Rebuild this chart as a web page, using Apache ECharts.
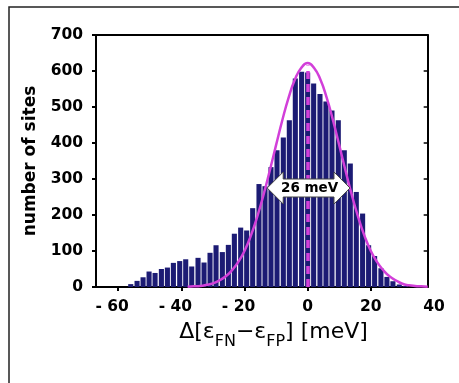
<!DOCTYPE html>
<html><head><meta charset="utf-8">
<script src="https://cdn.jsdelivr.net/npm/echarts@6/dist/echarts.min.js"></script>
<style>html,body{margin:0;padding:0;background:#fff}#c{width:459px;height:383px}</style>
</head><body><div id="c"></div>
<script>
// ---- data ----
const binCenters = [-56.0,-54.0,-52.1,-50.2,-48.3,-46.3,-44.4,-42.5,-40.5,-38.6,-36.7,-34.7,-32.8,-30.9,-29.0,-27.0,-25.1,-23.2,-21.2,-19.3,-17.4,-15.4,-13.5,-11.6,-9.7,-7.7,-5.8,-3.9,-1.9,0.0,1.9,3.9,5.8,7.7,9.7,11.6,13.5,15.4,17.4,19.3,21.2,23.2,25.1,27.0,29.0,30.9];
const binCounts  = [8,17,27,43,39,50,54,67,72,77,57,81,68,95,116,97,117,148,165,157,219,286,280,333,380,415,463,579,598,596,565,536,515,490,463,380,343,264,204,116,86,52,28,16,7,3];
const fitX = [-38,-36,-34,-32,-30,-28,-26,-24,-22,-20,-18,-16,-14,-12,-10,-8,-6,-4,-2,0,2,4,6,8,10,12,14,16,18,20,22,24,26,28,30,32,34,36,38];
const fitY = [1,2,3,6,10,18,29,46,69,100,142,194,255,323,394,464,527,577,609,622,609,577,527,464,394,323,255,194,142,100,69,46,29,18,9,5,3,2,1];
const xTickValues = [-60,-40,-20,0,20,40];
const xTickMarks = [-60,-40,-20,0,20];
const xMin = -67, xMax = 40, xFrameMax = 38;
const yMin = 0, yMax = 700, yStep = 100;
const widthArrow = [[-12.8, 13.4, 275]];
const widthLabel = '26 meV';
const centerLine = [[0, 0], [0, 615]];
const xTitle = '{a|Δ[ε}{s|FN}{a|−ε}{s|FP}{a|] [meV]}';
const yTitle = 'number of sites';

// ---- chart ----
const F = 'DejaVu Sans';
const gridLeft = 96, gridTop = 35, gridW = 338, gridH = 252;
const frameW = gridW * (xFrameMax - xMin) / (xMax - xMin);
const black = '#000';
const magenta = '#d23fd9';

const chart = echarts.init(document.getElementById('c'), null, {renderer: 'canvas'});
const lbl = {fontFamily: F, fontWeight: 'bold', fontSize: 15.5, color: black};

chart.setOption({
  animation: false,
  backgroundColor: '#fff',
  grid: [
    {left: gridLeft, top: gridTop, width: gridW, height: gridH},
    {left: gridLeft, top: gridTop, width: frameW, height: gridH}
  ],
  xAxis: [
    {
      gridIndex: 0, type: 'value', min: xMin, max: xMax,
      axisLine: {show: false, onZero: false},
      splitLine: {show: false},
      axisTick: {show: true, customValues: xTickMarks, length: 4, lineStyle: {color: black, width: 2}},
      axisLabel: {
        customValues: xTickValues, margin: 12,
        formatter: v => v < 0 ? '{n|- ' + (-v) + '}{h|- }' : '{n|' + v + '}',
        rich: {n: lbl, h: Object.assign({}, lbl, {color: 'rgba(0,0,0,0)'})}
      },
      name: xTitle, nameLocation: 'middle', nameGap: 34,
      nameTextStyle: {
        padding: [0, 0, 0, 17],
        rich: {
          a: {fontFamily: F, fontSize: 22, color: black, verticalAlign: 'bottom', padding: [0, 0, 7, 0]},
          s: {fontFamily: F, fontSize: 16, color: black, verticalAlign: 'bottom'}
        }
      }
    },
    {gridIndex: 1, type: 'value', min: 0, max: 1, position: 'bottom',
      axisLine: {show: true, onZero: false, lineStyle: {color: black, width: 2}},
      axisTick: {show: false}, axisLabel: {show: false}, splitLine: {show: false}},
    {gridIndex: 1, type: 'value', min: 0, max: 1, position: 'top',
      axisLine: {show: true, onZero: false, lineStyle: {color: black, width: 2}},
      axisTick: {show: false}, axisLabel: {show: false}, splitLine: {show: false}}
  ],
  yAxis: [
    {
      gridIndex: 0, type: 'value', min: yMin, max: yMax, interval: yStep,
      axisLine: {show: true, onZero: false, lineStyle: {color: black, width: 2}},
      axisTick: {show: true, length: 4, lineStyle: {color: black, width: 2}},
      axisLabel: Object.assign({margin: 13}, lbl),
      splitLine: {show: false},
      name: yTitle, nameLocation: 'middle', nameGap: 57,
      nameTextStyle: {fontFamily: F, fontWeight: 'bold', fontSize: 17, color: black}
    },
    {
      gridIndex: 1, type: 'value', min: yMin, max: yMax, interval: yStep, position: 'right',
      axisLine: {show: true, onZero: false, lineStyle: {color: black, width: 2}},
      axisTick: {show: true, inside: true, length: 4, lineStyle: {color: black, width: 1.5}},
      axisLabel: {show: false}, splitLine: {show: false}
    }
  ],
  graphic: [{
    type: 'rect', silent: true, z: 0,
    shape: {x: 9, y: 7, width: 520, height: 420},
    style: {fill: 'none', stroke: '#222', lineWidth: 1.5}
  }],
  series: [
    {
      type: 'bar', xAxisIndex: 0, yAxisIndex: 0, silent: true, z: 2,
      barWidth: 5.1,
      itemStyle: {color: '#1c1b74'},
      data: binCenters.map((x, i) => [x, binCounts[i]])
    },
    {
      type: 'line', xAxisIndex: 0, yAxisIndex: 0, silent: true, z: 4,
      smooth: true, showSymbol: false,
      lineStyle: {color: magenta, width: 2.5},
      data: fitX.map((x, i) => [x, fitY[i]]),
      markLine: {
        silent: true, symbol: 'none', label: {show: false}, z: 5,
        lineStyle: {color: magenta, type: [8, 5], width: 3.5},
        data: [[{coord: centerLine[0]}, {coord: centerLine[1]}]]
      }
    },
    {
      type: 'custom', xAxisIndex: 0, yAxisIndex: 0, silent: true, z: 10,
      encode: {x: [0, 1], y: 2},
      data: widthArrow,
      renderItem: (params, api) => {
        const l = api.coord([api.value(0), api.value(2)]);
        const r = api.coord([api.value(1), api.value(2)]);
        const cy = l[1], hl = 16, hh = 16, bh = 9;
        const pts = [[l[0], cy], [l[0] + hl, cy - hh], [l[0] + hl, cy - bh], [r[0] - hl, cy - bh], [r[0] - hl, cy - hh],
          [r[0], cy], [r[0] - hl, cy + hh], [r[0] - hl, cy + bh], [l[0] + hl, cy + bh], [l[0] + hl, cy + hh]];
        return {type: 'group', children: [
          {type: 'polygon', shape: {points: pts}, style: {fill: '#fff', stroke: '#444', lineWidth: 1}},
          {type: 'text', style: {text: widthLabel, x: (l[0] + r[0]) / 2 + 1, y: cy, align: 'center', verticalAlign: 'middle',
            font: 'bold 13.5px "DejaVu Sans"', fill: black}}
        ]};
      }
    }
  ]
});
</script>
</body></html>
